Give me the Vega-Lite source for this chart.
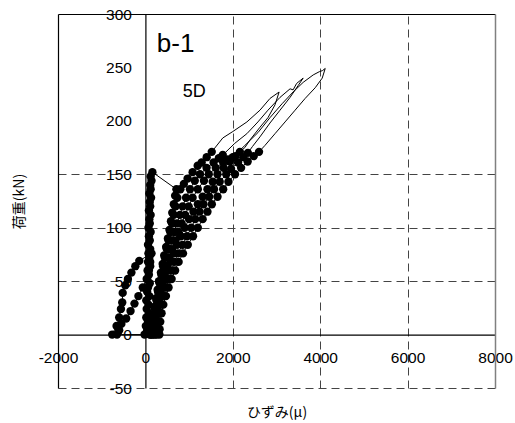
{
  "$schema": "https://vega.github.io/schema/vega-lite/v6.json",
  "width": 437,
  "height": 374,
  "autosize": {"type": "none"},
  "padding": {"left": 58, "top": 14, "right": 20, "bottom": 35},
  "background": "white",
  "view": {"stroke": null},
  "config": {"font": "Liberation Sans"},
  "datasets": {
    "curve": [
      {"strain": -650, "load": 0}, {"strain": -600, "load": 4}, {"strain": -550, "load": 10}, {"strain": -440, "load": 15}, {"strain": -340, "load": 22}, {"strain": -250, "load": 29}, {"strain": -160, "load": 36}, {"strain": -60, "load": 44}, {"strain": 30, "load": 52}, {"strain": 80, "load": 60}, {"strain": 110, "load": 68}, {"strain": 140, "load": 76},
      {"strain": -140, "load": 69}, {"strain": -230, "load": 64}, {"strain": -320, "load": 58}, {"strain": -400, "load": 52}, {"strain": -460, "load": 46}, {"strain": -520, "load": 39}, {"strain": -530, "load": 30}, {"strain": -560, "load": 24}, {"strain": -600, "load": 16}, {"strain": -660, "load": 8}, {"strain": -760, "load": 0},
      {"strain": -20, "load": 0}, {"strain": 40, "load": 4}, {"strain": 10, "load": 8}, {"strain": 60, "load": 12}, {"strain": 20, "load": 16}, {"strain": 80, "load": 20}, {"strain": 30, "load": 24}, {"strain": 70, "load": 28}, {"strain": 20, "load": 32}, {"strain": 90, "load": 36}, {"strain": 40, "load": 40}, {"strain": 60, "load": 44}, {"strain": 100, "load": 48}, {"strain": 40, "load": 52}, {"strain": 80, "load": 56}, {"strain": 50, "load": 60}, {"strain": 110, "load": 64}, {"strain": 60, "load": 68}, {"strain": 90, "load": 72}, {"strain": 70, "load": 76}, {"strain": 110, "load": 80}, {"strain": 60, "load": 84}, {"strain": 100, "load": 88}, {"strain": 80, "load": 92}, {"strain": 120, "load": 96}, {"strain": 70, "load": 100}, {"strain": 100, "load": 104}, {"strain": 90, "load": 108}, {"strain": 120, "load": 112}, {"strain": 80, "load": 116}, {"strain": 110, "load": 120}, {"strain": 100, "load": 124}, {"strain": 130, "load": 128}, {"strain": 90, "load": 132}, {"strain": 120, "load": 136}, {"strain": 110, "load": 140}, {"strain": 140, "load": 144}, {"strain": 120, "load": 148}, {"strain": 160, "load": 152},
      {"strain": 710, "load": 136},
      {"strain": 680, "load": 130}, {"strain": 650, "load": 122}, {"strain": 615, "load": 114}, {"strain": 585, "load": 106}, {"strain": 550, "load": 98}, {"strain": 515, "load": 90}, {"strain": 475, "load": 82}, {"strain": 430, "load": 74}, {"strain": 395, "load": 66}, {"strain": 355, "load": 58}, {"strain": 310, "load": 50}, {"strain": 280, "load": 42}, {"strain": 245, "load": 34}, {"strain": 210, "load": 26}, {"strain": 175, "load": 18}, {"strain": 140, "load": 10}, {"strain": 115, "load": 4}, {"strain": 100, "load": 0},
      {"strain": 120, "load": 0}, {"strain": 150, "load": 8}, {"strain": 185, "load": 16}, {"strain": 222, "load": 24}, {"strain": 258, "load": 32}, {"strain": 290, "load": 40}, {"strain": 325, "load": 48}, {"strain": 365, "load": 56}, {"strain": 405, "load": 64}, {"strain": 445, "load": 72}, {"strain": 490, "load": 80}, {"strain": 530, "load": 88}, {"strain": 570, "load": 96}, {"strain": 610, "load": 104}, {"strain": 650, "load": 112}, {"strain": 690, "load": 120}, {"strain": 730, "load": 128}, {"strain": 800, "load": 136}, {"strain": 880, "load": 141}, {"strain": 966, "load": 146}, {"strain": 1081, "load": 152}, {"strain": 1196, "load": 158}, {"strain": 1288, "load": 161}, {"strain": 1403, "load": 166}, {"strain": 1518, "load": 171},
      {"strain": 1771, "load": 184}, {"strain": 2000, "load": 190}, {"strain": 2323, "load": 199}, {"strain": 2622, "load": 210}, {"strain": 2852, "load": 221}, {"strain": 3060, "load": 227},
      {"strain": 2966, "load": 215}, {"strain": 2805, "load": 203}, {"strain": 2621, "load": 194}, {"strain": 2391, "load": 182}, {"strain": 2276, "load": 175},
      {"strain": 2162, "load": 171}, {"strain": 2060, "load": 167}, {"strain": 1930, "load": 162}, {"strain": 1790, "load": 156}, {"strain": 1650, "load": 150}, {"strain": 1540, "load": 143}, {"strain": 1420, "load": 136}, {"strain": 1310, "load": 129}, {"strain": 1200, "load": 122}, {"strain": 1100, "load": 115}, {"strain": 1000, "load": 108}, {"strain": 900, "load": 100}, {"strain": 810, "load": 92}, {"strain": 725, "load": 84}, {"strain": 645, "load": 76}, {"strain": 575, "load": 68}, {"strain": 510, "load": 60}, {"strain": 455, "load": 52}, {"strain": 405, "load": 44}, {"strain": 360, "load": 36}, {"strain": 320, "load": 28}, {"strain": 280, "load": 20}, {"strain": 250, "load": 12}, {"strain": 230, "load": 5}, {"strain": 220, "load": 0},
      {"strain": 150, "load": 0}, {"strain": 170, "load": 8}, {"strain": 195, "load": 16}, {"strain": 225, "load": 24}, {"strain": 260, "load": 32}, {"strain": 300, "load": 40}, {"strain": 340, "load": 48}, {"strain": 390, "load": 56}, {"strain": 440, "load": 64}, {"strain": 495, "load": 72}, {"strain": 555, "load": 80}, {"strain": 615, "load": 88}, {"strain": 660, "load": 96}, {"strain": 720, "load": 104}, {"strain": 790, "load": 112}, {"strain": 850, "load": 120}, {"strain": 930, "load": 128}, {"strain": 1020, "load": 136}, {"strain": 1130, "load": 144}, {"strain": 1250, "load": 150}, {"strain": 1400, "load": 156}, {"strain": 1560, "load": 161}, {"strain": 1680, "load": 165}, {"strain": 1770, "load": 168},
      {"strain": 2046, "load": 179}, {"strain": 2322, "load": 188}, {"strain": 2575, "load": 199}, {"strain": 2805, "load": 210}, {"strain": 3081, "load": 222}, {"strain": 3311, "load": 230}, {"strain": 3380, "load": 229}, {"strain": 3460, "load": 235}, {"strain": 3610, "load": 240},
      {"strain": 3495, "load": 233}, {"strain": 3311, "load": 222}, {"strain": 3081, "load": 210}, {"strain": 2851, "load": 198}, {"strain": 2621, "load": 185}, {"strain": 2450, "load": 176},
      {"strain": 2345, "load": 170}, {"strain": 2240, "load": 166}, {"strain": 2120, "load": 161}, {"strain": 1960, "load": 155}, {"strain": 1850, "load": 150}, {"strain": 1700, "load": 143}, {"strain": 1570, "load": 136}, {"strain": 1460, "load": 129}, {"strain": 1330, "load": 122}, {"strain": 1240, "load": 115}, {"strain": 1140, "load": 108}, {"strain": 1050, "load": 100}, {"strain": 950, "load": 92}, {"strain": 850, "load": 84}, {"strain": 745, "load": 76}, {"strain": 665, "load": 68}, {"strain": 600, "load": 60}, {"strain": 530, "load": 52}, {"strain": 475, "load": 44}, {"strain": 420, "load": 36}, {"strain": 375, "load": 28}, {"strain": 330, "load": 20}, {"strain": 295, "load": 12}, {"strain": 270, "load": 5}, {"strain": 260, "load": 0},
      {"strain": 180, "load": 0}, {"strain": 205, "load": 8}, {"strain": 232, "load": 16}, {"strain": 265, "load": 24}, {"strain": 300, "load": 32}, {"strain": 345, "load": 40}, {"strain": 390, "load": 48}, {"strain": 440, "load": 56}, {"strain": 495, "load": 64}, {"strain": 550, "load": 72}, {"strain": 610, "load": 80}, {"strain": 680, "load": 88}, {"strain": 750, "load": 96}, {"strain": 830, "load": 104}, {"strain": 910, "load": 112}, {"strain": 990, "load": 120}, {"strain": 1080, "load": 128}, {"strain": 1200, "load": 136}, {"strain": 1340, "load": 144}, {"strain": 1450, "load": 150}, {"strain": 1610, "load": 156}, {"strain": 1780, "load": 161}, {"strain": 1890, "load": 164}, {"strain": 2000, "load": 166},
      {"strain": 2276, "load": 177}, {"strain": 2575, "load": 189}, {"strain": 2851, "load": 203}, {"strain": 3127, "load": 216}, {"strain": 3380, "load": 227}, {"strain": 3610, "load": 236}, {"strain": 3840, "load": 243}, {"strain": 3980, "load": 246}, {"strain": 4050, "load": 247}, {"strain": 4115, "load": 249},
      {"strain": 4046, "load": 240}, {"strain": 3886, "load": 231}, {"strain": 3656, "load": 221}, {"strain": 3426, "load": 210}, {"strain": 3196, "load": 199}, {"strain": 2966, "load": 188}, {"strain": 2736, "load": 177},
      {"strain": 2600, "load": 171}, {"strain": 2480, "load": 167}, {"strain": 2340, "load": 162}, {"strain": 2190, "load": 156}, {"strain": 2050, "load": 150}, {"strain": 1900, "load": 143}, {"strain": 1780, "load": 136}, {"strain": 1650, "load": 129}, {"strain": 1520, "load": 122}, {"strain": 1420, "load": 115}, {"strain": 1310, "load": 108}, {"strain": 1200, "load": 100}, {"strain": 1090, "load": 92}, {"strain": 970, "load": 84}, {"strain": 860, "load": 76}, {"strain": 760, "load": 68}, {"strain": 680, "load": 60}, {"strain": 600, "load": 52}, {"strain": 530, "load": 44}, {"strain": 470, "load": 36}, {"strain": 410, "load": 28}, {"strain": 370, "load": 20}, {"strain": 340, "load": 12}, {"strain": 325, "load": 5}, {"strain": 320, "load": 0}
    ],
    "notes": [
      {"label": "b-1", "strain": 690, "load": 272},
      {"label": "5D", "strain": 1115, "load": 227}
    ]
  },
  "layer": [
    {
      "data": {"name": "curve"},
      "mark": {"type": "point", "filled": true, "shape": "circle", "size": 70, "color": "black", "opacity": 1},
      "transform": [{"filter": "datum.load <= 172"}],
      "encoding": {
        "x": {"field": "strain", "type": "quantitative", "scale": {"domain": [-2000, 8000], "nice": false, "zero": false},
          "axis": {"orient": "top", "values": [2000, 4000, 6000], "grid": true, "gridColor": "#444444", "gridDash": [8, 5], "gridWidth": 1, "labels": false, "ticks": false, "domain": true, "domainColor": "black", "domainWidth": 1.2, "title": null}},
        "y": {"field": "load", "type": "quantitative", "scale": {"domain": [-50, 300], "nice": false, "zero": false},
          "axis": {"orient": "right", "values": [-50, 50, 100, 150], "grid": true, "gridColor": "#444444", "gridDash": [8, 5], "gridWidth": 1, "labels": false, "ticks": false, "domain": true, "domainColor": "#808080", "domainWidth": 1.5, "title": null}}
      }
    },
    {
      "data": {"name": "curve"},
      "mark": {"type": "line", "color": "black", "strokeWidth": 1},
      "encoding": {
        "x": {"field": "strain", "type": "quantitative", "scale": {"domain": [-2000, 8000], "nice": false, "zero": false},
          "axis": {"orient": "bottom", "offset": -53.43, "values": [-2000, 0, 2000, 4000, 6000, 8000], "labelExpr": "'' + datum.value", "grid": false, "ticks": false, "domainColor": "black", "domainWidth": 1.2, "labelFont": "Liberation Sans", "labelFontSize": 15.5, "labelColor": "black", "labelPadding": 16, "labelFlush": false, "labelOverlap": false, "title": "ひずみ(μ)", "titleFont": "Noto Sans CJK JP", "titleFontSize": 14, "titleFontWeight": "normal", "titleColor": "#000000", "titleBaseline": "middle", "titleY": 78}},
        "y": {"field": "load", "type": "quantitative", "scale": {"domain": [-50, 300], "nice": false, "zero": false},
          "axis": {"orient": "left", "offset": -87.4, "values": [-50, 0, 50, 100, 150, 200, 250, 300], "labelExpr": "'' + datum.value", "grid": false, "ticks": false, "domainColor": "black", "domainWidth": 1.2, "labelFont": "Liberation Sans", "labelFontSize": 15.5, "labelColor": "black", "labelPadding": 14, "labelFlush": false, "labelOverlap": false, "title": "荷重(kN)", "titleFont": "Noto Sans CJK JP", "titleFontSize": 14, "titleFontWeight": "normal", "titleColor": "#000000", "titleBaseline": "middle", "titleAngle": 270, "titleX": -125.4, "titleY": 187}},
        "order": {"value": null}
      }
    },
    {
      "data": {"name": "notes"},
      "transform": [{"filter": "datum.label == 'b-1'"}],
      "mark": {"type": "text", "font": "Liberation Sans", "fontSize": 26, "color": "black", "align": "center", "baseline": "middle"},
      "encoding": {
        "x": {"field": "strain", "type": "quantitative", "scale": {"domain": [-2000, 8000], "nice": false, "zero": false}, "axis": null},
        "y": {"field": "load", "type": "quantitative", "scale": {"domain": [-50, 300], "nice": false, "zero": false},
          "axis": {"orient": "left", "labels": false, "ticks": false, "grid": false, "domain": true, "domainColor": "black", "domainWidth": 1.2, "title": null}},
        "text": {"field": "label"}
      }
    },
    {
      "data": {"name": "notes"},
      "transform": [{"filter": "datum.label == '5D'"}],
      "mark": {"type": "text", "font": "Liberation Sans", "fontSize": 18, "color": "black", "align": "center", "baseline": "middle"},
      "encoding": {
        "x": {"field": "strain", "type": "quantitative", "scale": {"domain": [-2000, 8000], "nice": false, "zero": false}, "axis": null},
        "y": {"field": "load", "type": "quantitative", "scale": {"domain": [-50, 300], "nice": false, "zero": false}, "axis": null},
        "text": {"field": "label"}
      }
    }
  ],
  "resolve": {"axis": {"x": "independent", "y": "independent"}}
}
